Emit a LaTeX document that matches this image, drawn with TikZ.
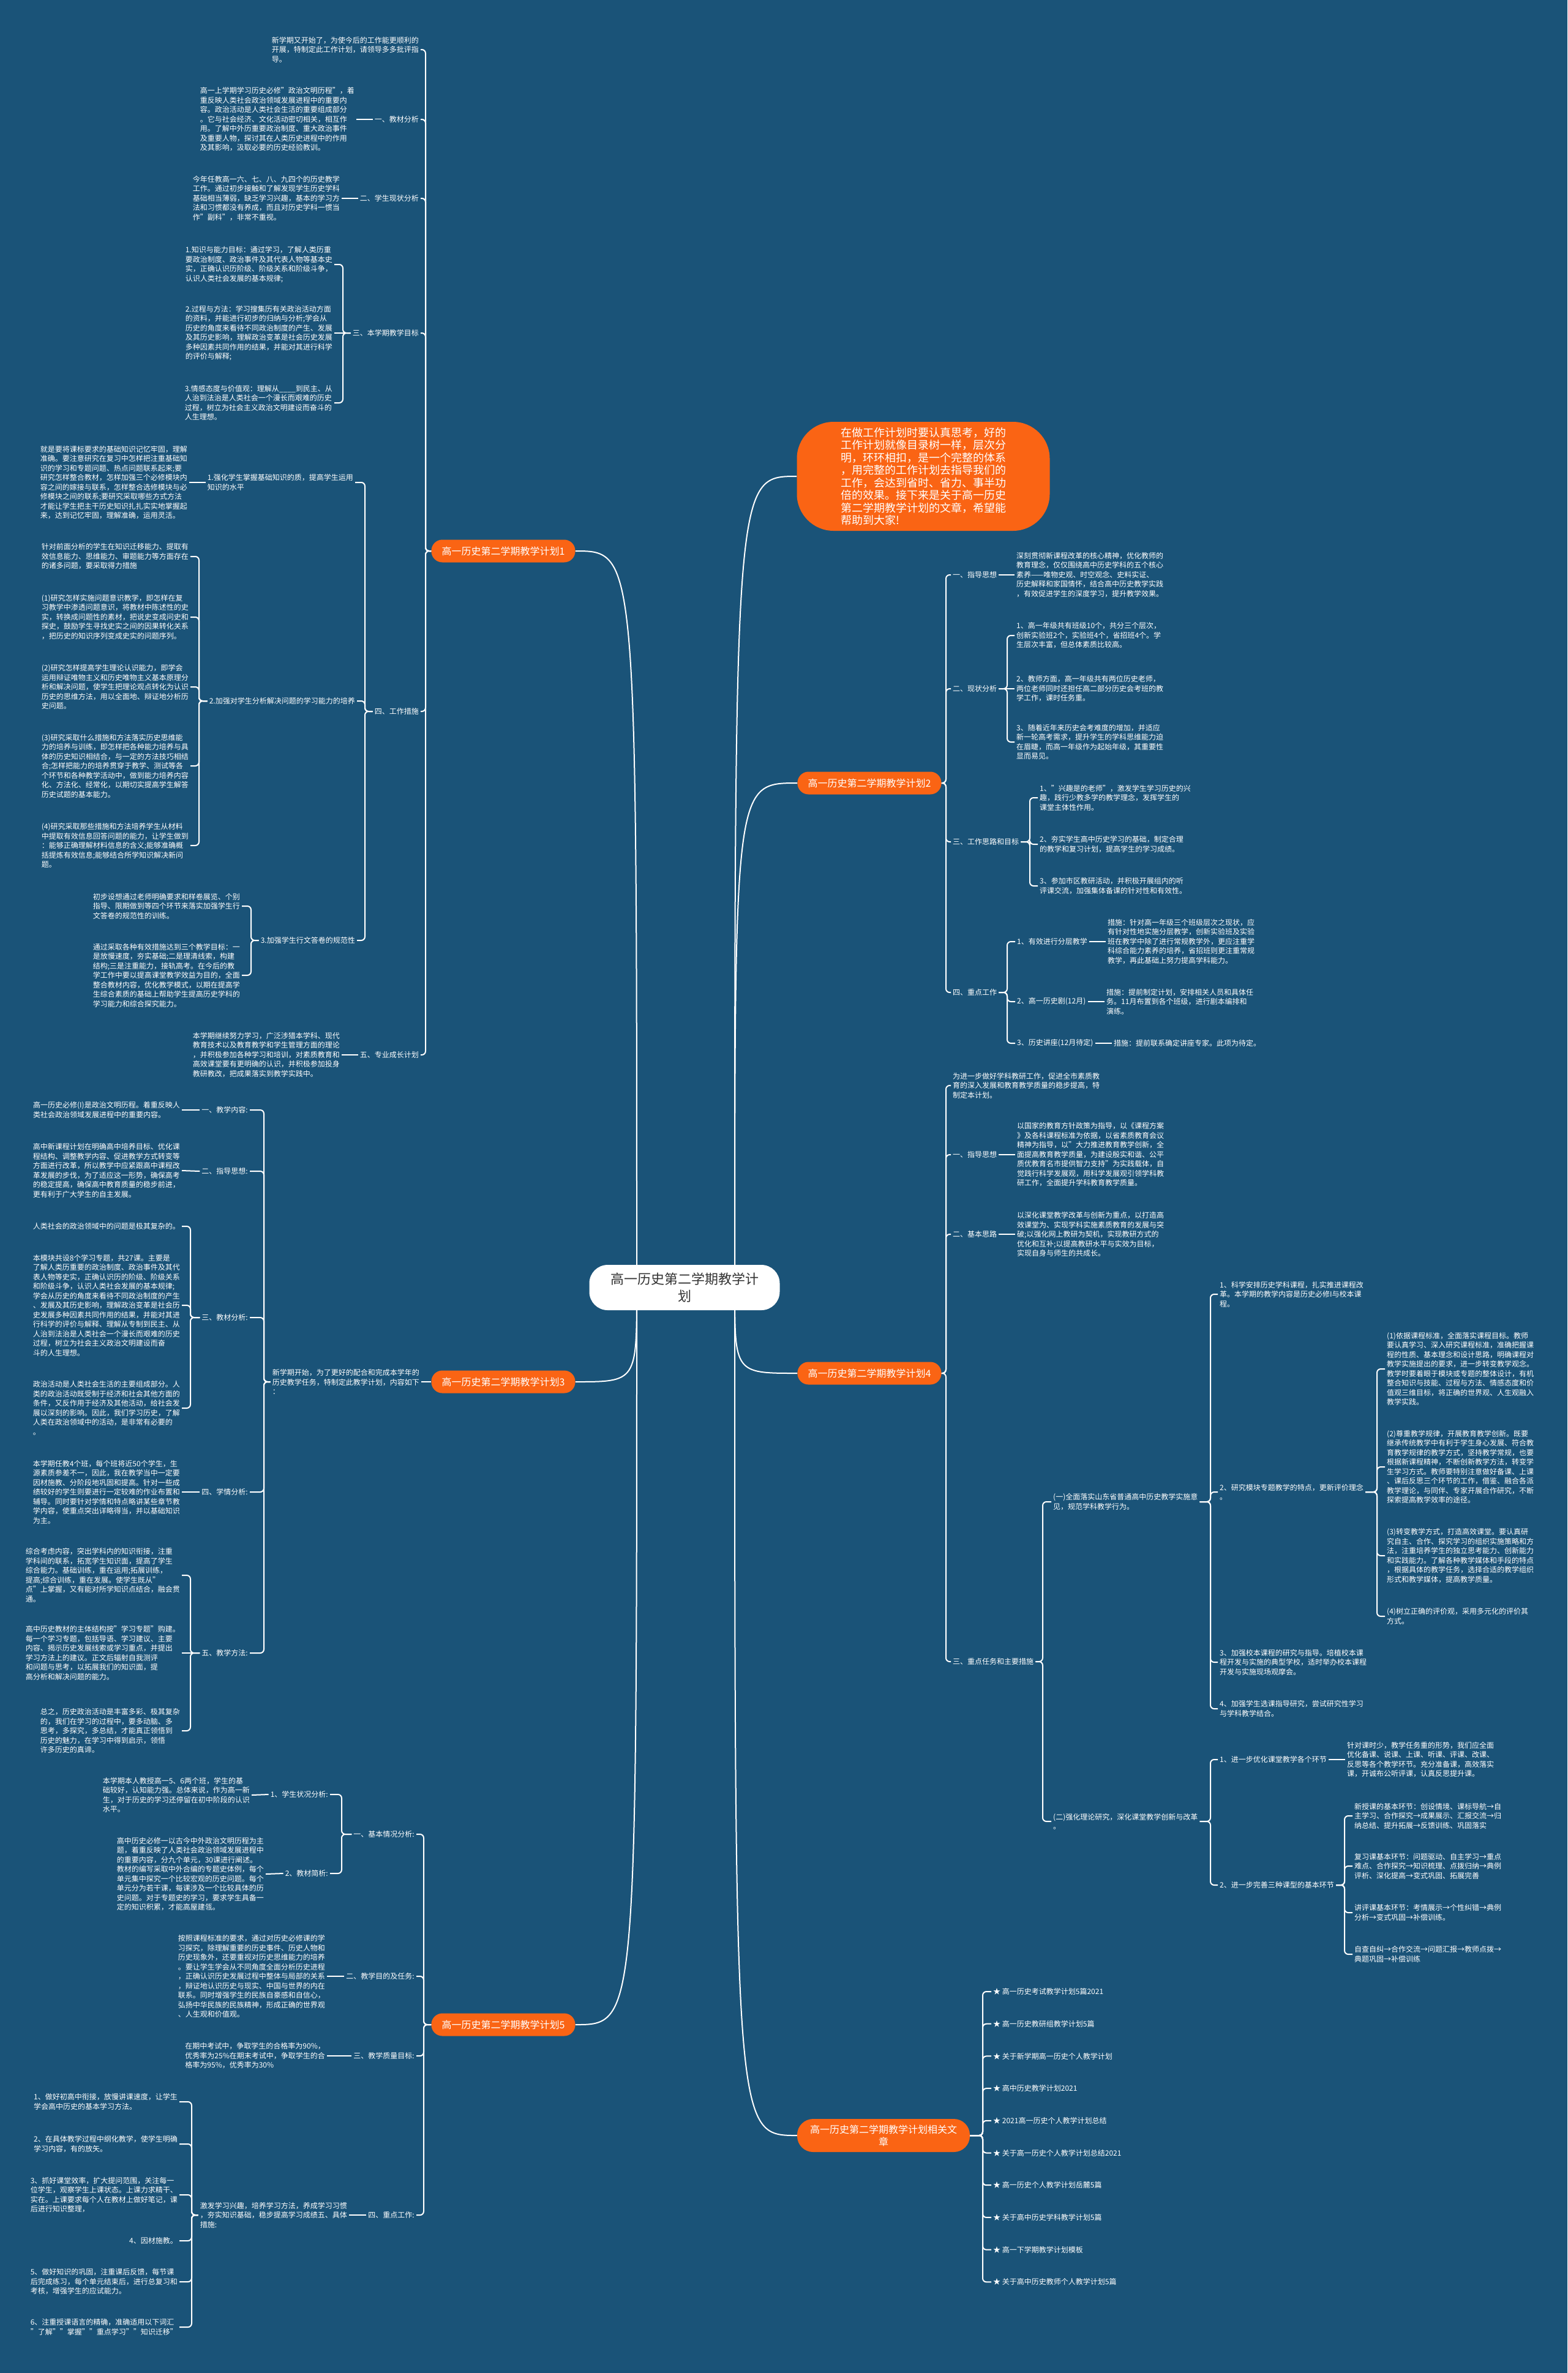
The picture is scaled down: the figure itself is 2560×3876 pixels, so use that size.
\documentclass[tikz,border=0pt]{standalone}
\usepackage{fontspec}
\setmainfont{Noto Sans CJK SC}
\usetikzlibrary{calc}
\pgfdeclarelayer{bg}
\pgfsetlayers{bg,main}
\definecolor{bgc}{HTML}{1A5378}
\definecolor{org}{HTML}{FA6414}
\definecolor{dk}{HTML}{333333}
\tikzset{
  conn/.style={draw=white, line width=2pt, rounded corners=6pt},
  tx/.style={text=white, font=\fontsize{12}{15.5}\selectfont, align=left, inner xsep=3pt, inner ysep=1pt},
  brn/.style={fill=org, text=white, font=\fontsize{16}{20}\selectfont, rounded corners=18pt, minimum width=235pt, minimum height=37pt, inner sep=0pt, align=center},
}
\newcommand\LL[3]{\draw[conn] (#1) -- (#2 |- #1) -- (#2 |- #3) -- (#3);}
\newcommand\SL[2]{\draw[conn] (#1) -- (#2);}
\begin{document}
\begin{tikzpicture}[x=1pt,y=-1pt]
\useasboundingbox (0,0) rectangle (2560,3876);
\begin{pgfonlayer}{bg}
\fill[bgc] (0,0) rectangle (2560,3876);
\end{pgfonlayer}

% ---------- centre and branches ----------
\node[fill=white, rounded corners=30pt, minimum width=311pt, minimum height=74pt, font=\fontsize{22}{28}\selectfont, text=dk, align=center, inner sep=0pt] (root) at (1118,2103) {高一历史第二学期教学计\\划};
\node[brn] (p1) at (822,900) {高一历史第二学期教学计划1};
\node[brn] (p3) at (822,2257) {高一历史第二学期教学计划3};
\node[brn] (p5) at (822,3307) {高一历史第二学期教学计划5};
\node[brn] (p2) at (1420,1279) {高一历史第二学期教学计划2};
\node[brn] (p4) at (1420,2243) {高一历史第二学期教学计划4};
\node[brn, minimum width=282pt, minimum height=54pt, rounded corners=26pt] (p6) at (1443,3488) {高一历史第二学期教学计划相关文\\章};
\node[fill=org, rounded corners=60pt, minimum width=413pt, minimum height=178pt, text=white, font=\fontsize{18}{20.5}\selectfont, align=left, inner sep=0pt] (note) at (1508,778) {在做工作计划时要认真思考，好的\\工作计划就像目录树一样，层次分\\明，环环相扣，是一个完整的体系\\，用完整的工作计划去指导我们的\\工作，会达到省时、省力、事半功\\倍的效果。接下来是关于高一历史\\第二学期教学计划的文章，希望能\\帮助到大家!};

% ---------- plan 1 ----------
\coordinate (b1) at (695,0);
\coordinate (b13) at (560,0);
\coordinate (b14) at (596,0);
\coordinate (b142) at (325,0);
\coordinate (b143) at (410,0);
\node[tx, anchor=east] (a0) at (687,81) {新学期又开始了，为使今后的工作能更顺利的\\开展，特制定此工作计划，请领导多多批评指\\导。};
\node[tx, anchor=east] (a1) at (687,195) {一、教材分析};
\node[tx, anchor=east] (a1t) at (582,195) {高一上学期学习历史必修"政治文明历程"，着\\重反映人类社会政治领域发展进程中的重要内\\容。政治活动是人类社会生活的重要组成部分\\。它与社会经济、文化活动密切相关，相互作\\用。了解中外历重要政治制度、重大政治事件\\及重要人物，探讨其在人类历史进程中的作用\\及其影响，汲取必要的历史经验教训。};
\node[tx, anchor=east] (a2) at (687,324) {二、学生现状分析};
\node[tx, anchor=east] (a2t) at (558,324) {今年任教高一六、七、八、九四个的历史教学\\工作。通过初步接触和了解发现学生历史学科\\基础相当薄弱，缺乏学习兴趣，基本的学习方\\法和习惯都没有养成，而且对历史学科一惯当\\作"副科"，非常不重视。};
\node[tx, anchor=east] (a3) at (687,544) {三、本学期教学目标};
\node[tx, anchor=east] (a31) at (546,432) {1.知识与能力目标：通过学习，了解人类历重\\要政治制度、政治事件及其代表人物等基本史\\实，正确认识历阶级、阶级关系和阶级斗争，\\认识人类社会发展的基本规律;};
\node[tx, anchor=east] (a32) at (546,544) {2.过程与方法：学习搜集历有关政治活动方面\\的资料，并能进行初步的归纳与分析;学会从\\历史的角度来看待不同政治制度的产生、发展\\及其历史影响，理解政治变革是社会历史发展\\多种因素共同作用的结果，并能对其进行科学\\的评价与解释;};
\node[tx, anchor=east] (a33) at (546,658) {3.情感态度与价值观：理解从\_\_\_\_到民主、从\\人治到法治是人类社会一个漫长而艰难的历史\\过程，树立为社会主义政治文明建设而奋斗的\\人生理想。};
\node[tx, anchor=east] (a4) at (687,1162) {四、工作措施};
\node[tx, anchor=east] (a41) at (580,788) {1.强化学生掌握基础知识的质，提高学生运用\\知识的水平};
\node[tx, anchor=east] (a41t) at (309,788) {就是要将课标要求的基础知识记忆牢固，理解\\准确。要注意研究在复习中怎样把注重基础知\\识的学习和专题问题、热点问题联系起来;要\\研究怎样整合教材，怎样加强三个必修模块内\\容之间的嫁接与联系，怎样整合选修模块与必\\修模块之间的联系;要研究采取哪些方式方法\\才能让学生把主干历史知识扎扎实实地掌握起\\来，达到记忆牢固，理解准确，运用灵活。};
\node[tx, anchor=east] (a42) at (583,1145) {2.加强对学生分析解决问题的学习能力的培养};
\node[tx, anchor=east] (a421) at (311,909) {针对前面分析的学生在知识迁移能力、提取有\\效信息能力、思维能力、审题能力等方面存在\\的诸多问题，要采取得力措施};
\node[tx, anchor=east] (a422) at (311,1008) {(1)研究怎样实施问题意识教学，即怎样在复\\习教学中渗透问题意识，将教材中陈述性的史\\实，转换成问题性的素材，把说史变成问史和\\探史，鼓励学生寻找史实之间的因果转化关系\\，把历史的知识序列变成史实的问题序列。};
\node[tx, anchor=east] (a423) at (311,1122) {(2)研究怎样提高学生理论认识能力，即学会\\运用辩证唯物主义和历史唯物主义基本原理分\\析和解决问题，使学生把理论观点转化为认识\\历史的思维方法，用以全面地、辩证地分析历\\史问题。};
\node[tx, anchor=east] (a424) at (311,1251) {(3)研究采取什么措施和方法落实历史思维能\\力的培养与训练，即怎样把各种能力培养与具\\体的历史知识相结合，与一定的方法技巧相结\\合;怎样把能力的培养贯穿于教学、测试等各\\个环节和各种教学活动中，做到能力培养内容\\化、方法化、经常化，以期切实提高学生解答\\历史试题的基本能力。};
\node[tx, anchor=east] (a425) at (311,1381) {(4)研究采取那些措施和方法培养学生从材料\\中提取有效信息回答问题的能力，让学生做到\\：能够正确理解材料信息的含义;能够准确概\\括提炼有效信息;能够结合所学知识解决新问\\题。};
\node[tx, anchor=east] (a43) at (583,1536) {3.加强学生行文答卷的规范性};
\node[tx, anchor=east] (a431) at (395,1480) {初步设想通过老师明确要求和样卷展览、个别\\指导、限期做到等四个环节来落实加强学生行\\文答卷的规范性的训练。};
\node[tx, anchor=east] (a432) at (395,1593) {通过采取各种有效措施达到三个教学目标：一\\是放慢速度，夯实基础;二是理清线索，构建\\结构;三是注重能力，接轨高考。在今后的教\\学工作中要以提高课堂教学效益为目的，全面\\整合教材内容，优化教学模式，以期在提高学\\生综合素质的基础上帮助学生提高历史学科的\\学习能力和综合探究能力。};
\node[tx, anchor=east] (a5) at (687,1723) {五、专业成长计划};
\node[tx, anchor=east] (a5t) at (558,1723) {本学期继续努力学习，广泛涉猎本学科、现代\\教育技术以及教育教学和学生管理方面的理论\\，并积极参加各种学习和培训，对素质教育和\\高效课堂要有更明确的认识，并积极参加投身\\教研教改，把成果落实到教学实践中。};

% ---------- plan 3 ----------
\coordinate (b3) at (431,0);
\coordinate (b33) at (311,0);
\coordinate (b35) at (311,0);
\node[tx, anchor=east] (c0) at (688,2257) {新学期开始，为了更好的配合和完成本学年的\\历史教学任务，特制定此教学计划，内容如下\\：};
\node[tx, anchor=east] (c1) at (408,1813) {一、教学内容:};
\node[tx, anchor=east] (c1t) at (297,1813) {高一历史必修(I)是政治文明历程。着重反映人\\类社会政治领域发展进程中的重要内容。};
\node[tx, anchor=east] (c2) at (408,1913) {二、指导思想:};
\node[tx, anchor=east] (c2t) at (297,1912) {高中新课程计划在明确高中培养目标、优化课\\程结构、调整教学内容、促进教学方式转变等\\方面进行改革，所以教学中应紧跟高中课程改\\革发展的步伐，为了适应这一形势，确保高考\\的稳定提高，确保高中教育质量的稳步前进，\\更有利于广大学生的自主发展。};
\node[tx, anchor=east] (c3) at (408,2152) {三、教材分析:};
\node[tx, anchor=east] (c31) at (297,2003) {人类社会的政治领域中的问题是极其复杂的。};
\node[tx, anchor=east] (c32) at (297,2132) {本模块共设8个学习专题，共27课。主要是\\了解人类历重要的政治制度、政治事件及其代\\表人物等史实，正确认识历的阶级、阶级关系\\和阶级斗争，认识人类社会发展的基本规律;\\学会从历史的角度来看待不同政治制度的产生\\、发展及其历史影响，理解政治变革是社会历\\史发展多种因素共同作用的结果，并能对其进\\行科学的评价与解释、理解从专制到民主、从\\人治到法治是人类社会一个漫长而艰难的历史\\过程，树立为社会主义政治文明建设而奋\\斗的人生理想。};
\node[tx, anchor=east] (c33) at (297,2300) {政治活动是人类社会生活的主要组成部分。人\\类的政治活动既受制于经济和社会其他方面的\\条件，又反作用于经济及其他活动，给社会发\\展以深刻的影响。因此，我们学习历史，了解\\人类在政治领域中的活动，是非常有必要的\\。};
\node[tx, anchor=east] (c4) at (408,2437) {四、学情分析:};
\node[tx, anchor=east] (c4t) at (297,2437) {本学期任教4个班，每个班将近50个学生，生\\源素质参差不一，因此，我在教学当中一定要\\因材施教、分阶段地巩固和提高。针对一些成\\绩较好的学生则要进行一定较难的作业布置和\\辅导。同时要针对学情和特点略讲某些章节教\\学内容，使重点突出详略得当，并以基础知识\\为主。};
\node[tx, anchor=east] (c5) at (408,2700) {五、教学方法:};
\node[tx, anchor=east] (c51) at (297,2573) {综合考虑内容，突出学科内的知识衔接，注重\\学科间的联系，拓宽学生知识面，提高了学生\\综合能力。基础训练，重在运用;拓展训练，\\提高;综合训练，重在发展。使学生既从"\\点"上掌握，又有能对所学知识点结合，融会贯\\通。};
\node[tx, anchor=east] (c52) at (297,2700) {高中历史教材的主体结构按"学习专题"购建。\\每一个学习专题，包括导语、学习建议、主要\\内容、揭示历史发展线索或学习重点，并提出\\学习方法上的建议。正文后辐射自我测评\\和问题与思考，以拓展我们的知识面，提\\高分析和解决问题的能力。};
\node[tx, anchor=east] (c53) at (297,2827) {总之，历史政治活动是丰富多彩、极其复杂\\的，我们在学习的过程中，要多动脑、多\\思考，多探究，多总结，才能真正领悟到\\历史的魅力，在学习中得到启示，领悟\\许多历史的真谛。};

% ---------- plan 5 ----------
\coordinate (b5) at (692,0);
\coordinate (b51) at (558,0);
\coordinate (b54) at (313,0);
\node[tx, anchor=east] (e1) at (680,2996) {一、基本情况分析:};
\node[tx, anchor=east] (e11) at (539,2931) {1、学生状况分析:};
\node[tx, anchor=east] (e11t) at (411,2932) {本学期本人教授高一5、6两个班，学生的基\\础较好，认知能力强。总体来说，作为高一新\\生，对于历史的学习还停留在初中阶段的认识\\水平。};
\node[tx, anchor=east] (e12) at (539,3060) {2、教材简析:};
\node[tx, anchor=east] (e12t) at (434,3061) {高中历史必修一以古今中外政治文明历程为主\\题，着重反映了人类社会政治领域发展进程中\\的重要内容，分九个单元，30课进行阐述。\\教材的编写采取中外合编的专题史体例，每个\\单元集中探究一个比较宏观的历史问题。每个\\单元分为若干课，每课涉及一个比较具体的历\\史问题。对于专题史的学习，要求学生具备一\\定的知识积累，才能高屋建瓴。};
\node[tx, anchor=east] (e2) at (680,3228) {二、教学目的及任务:};
\node[tx, anchor=east] (e2t) at (534,3228) {按照课程标准的要求，通过对历史必修课的学\\习探究，除理解重要的历史事件、历史人物和\\历史现象外，还要重视对历史思维能力的培养\\。要让学生学会从不同角度全面分析历史进程\\，正确认识历史发展过程中整体与局部的关系\\，辩证地认识历史与现实、中国与世界的内在\\联系。同时增强学生的民族自豪感和自信心，\\弘扬中华民族的民族精神，形成正确的世界观\\、人生观和价值观。};
\node[tx, anchor=east] (e3) at (680,3358) {三、教学质量目标:};
\node[tx, anchor=east] (e3t) at (534,3358) {在期中考试中，争取学生的合格率为90\%，\\优秀率为25\%在期末考试中，争取学生的合\\格率为95\%，优秀率为30\%};
\node[tx, anchor=east] (e4) at (680,3618) {四、重点工作:};
\node[tx, anchor=east] (e4t) at (570,3618) {激发学习兴趣，培养学习方法，养成学习习惯\\，夯实知识基础，稳步提高学习成绩五、具体\\措施:};
\node[tx, anchor=east] (e41) at (293,3433) {1、做好初高中衔接，放慢讲课速度，让学生\\学会高中历史的基本学习方法。};
\node[tx, anchor=east] (e42) at (293,3502) {2、在具体教学过程中纲化教学，使学生明确\\学习内容，有的放矢。};
\node[tx, anchor=east] (e43) at (293,3585) {3、抓好课堂效率，扩大提问范围，关注每一\\位学生，观察学生上课状态。上课力求精干、\\实在。上课要求每个人在教材上做好笔记，课\\后进行知识整理，};
\node[tx, anchor=east] (e44) at (293,3660) {4、因材施教。};
\node[tx, anchor=east] (e45) at (293,3727) {5、做好知识的巩固，注重课后反馈，每节课\\后完成练习，每个单元结束后，进行总复习和\\考核，增强学生的应试能力。};
\node[tx, anchor=east] (e46) at (293,3801) {6、注重授课语言的精确，准确适用以下词汇\\"了解""掌握""重点学习""知识迁移"};

% ---------- plan 2 ----------
\coordinate (b2) at (1545,0);
\coordinate (b22) at (1645,0);
\coordinate (b23) at (1682,0);
\coordinate (b24) at (1645,0);
\node[tx, anchor=west] (d1) at (1553,939) {一、指导思想};
\node[tx, anchor=west] (d1t) at (1657,939) {深刻贯彻新课程改革的核心精神，优化教师的\\教育理念，仅仅围绕高中历史学科的五个核心\\素养——唯物史观、时空观念、史料实证、\\历史解释和家国情怀，结合高中历史教学实践\\，有效促进学生的深度学习，提升教学效果。};
\node[tx, anchor=west] (d2) at (1553,1125) {二、现状分析};
\node[tx, anchor=west] (d21) at (1657,1038) {1、高一年级共有班级10个，共分三个层次，\\创新实验班2个，实验班4个，省招班4个。学\\生层次丰富，但总体素质比较高。};
\node[tx, anchor=west] (d22) at (1657,1125) {2、教师方面，高一年级共有两位历史老师，\\两位老师同时还担任高二部分历史会考班的教\\学工作，课时任务重。};
\node[tx, anchor=west] (d23) at (1657,1212) {3、随着近年来历史会考难度的增加，并适应\\新一轮高考需求，提升学生的学科思维能力迫\\在眉睫，而高一年级作为起始年级，其重要性\\显而易见。};
\node[tx, anchor=west] (d3) at (1553,1375) {三、工作思路和目标};
\node[tx, anchor=west] (d31) at (1695,1303) {1、"兴趣是的老师"，激发学生学习历史的兴\\趣，践行少教多学的教学理念，发挥学生的\\课堂主体性作用。};
\node[tx, anchor=west] (d32) at (1695,1379) {2、夯实学生高中历史学习的基础，制定合理\\的教学和复习计划，提高学生的学习成绩。};
\node[tx, anchor=west] (d33) at (1695,1447) {3、参加市区教研活动，并积极开展组内的听\\评课交流，加强集体备课的针对性和有效性。};
\node[tx, anchor=west] (d4) at (1553,1621) {四、重点工作};
\node[tx, anchor=west] (d41) at (1658,1538) {1、有效进行分层教学};
\node[tx, anchor=west] (d41t) at (1806,1538) {措施：针对高一年级三个班级层次之现状，应\\有针对性地实施分层教学，创新实验班及实验\\班在教学中除了进行常规教学外，更应注重学\\科综合能力素养的培养，省招班则更注重常规\\教学，再此基础上努力提高学科能力。};
\node[tx, anchor=west] (d42) at (1658,1636) {2、高一历史剧(12月)};
\node[tx, anchor=west] (d42t) at (1804,1636) {措施：提前制定计划，安排相关人员和具体任\\务。11月布置到各个班级，进行剧本编排和\\演练。};
\node[tx, anchor=west] (d43) at (1658,1704) {3、历史讲座(12月待定)};
\node[tx, anchor=west] (d43t) at (1816,1704) {措施：提前联系确定讲座专家。此项为待定。};

% ---------- plan 4 ----------
\coordinate (b4) at (1545,0);
\coordinate (b43) at (1703,0);
\coordinate (b431) at (1977,0);
\coordinate (b4312) at (2249,0);
\coordinate (b432) at (1977,0);
\coordinate (b4322) at (2196,0);
\node[tx, anchor=west] (f0) at (1553,1773) {为进一步做好学科教研工作，促进全市素质教\\育的深入发展和教育教学质量的稳步提高，特\\制定本计划。};
\node[tx, anchor=west] (f1) at (1553,1886) {一、指导思想};
\node[tx, anchor=west] (f1t) at (1658,1886) {以国家的教育方针政策为指导，以《课程方案\\》及各科课程标准为依据，以省素质教育会议\\精神为指导，以"大力推进教育教学创新，全\\面提高教育教学质量，为建设殷实和谐、公平\\质优教育名市提供智力支持"为实践载体，自\\觉践行科学发展观，用科学发展观引领学科教\\研工作，全面提升学科教育教学质量。};
\node[tx, anchor=west] (f2) at (1553,2016) {二、基本思路};
\node[tx, anchor=west] (f2t) at (1658,2016) {以深化课堂教学改革与创新为重点，以打造高\\效课堂为、实现学科实施素质教育的发展与突\\破;以强化网上教研为契机，实现教研方式的\\优化和互补;以提高教研水平与实效为目标，\\实现自身与师生的共成长。};
\node[tx, anchor=west] (f3) at (1553,2714) {三、重点任务和主要措施};
\node[tx, anchor=west] (f31) at (1717,2453) {(一)全面落实山东省普通高中历史教学实施意\\见，规范学科教学行为。};
\node[tx, anchor=west] (f311) at (1989,2114) {1、科学安排历史学科课程，扎实推进课程改\\革。本学期的教学内容是历史必修I与校本课\\程。};
\node[tx, anchor=west] (f312) at (1989,2437) {2、研究模块专题教学的特点，更新评价理念\\。};
\node[tx, anchor=west] (f3121) at (2262,2236) {(1)依据课程标准，全面落实课程目标。教师\\要认真学习、深入研究课程标准，准确把握课\\程的性质、基本理念和设计思路，明确课程对\\教学实施提出的要求，进一步转变教学观念。\\教学时要着眼于模块或专题的整体设计，有机\\整合知识与技能、过程与方法、情感态度和价\\值观三维目标，将正确的世界观、人生观融入\\教学实践。};
\node[tx, anchor=west] (f3122) at (2262,2396) {(2)尊重教学规律，开展教育教学创新。既要\\继承传统教学中有利于学生身心发展、符合教\\育教学规律的教学方式，坚持教学常规，也要\\根据新课程精神，不断创新教学方法，转变学\\生学习方式。教师要特别注意做好备课、上课\\、课后反思三个环节的工作，借鉴、融合各派\\教学理论，与同伴、专家开展合作研究，不断\\探索提高教学效率的途径。};
\node[tx, anchor=west] (f3123) at (2262,2541) {(3)转变教学方式，打造高效课堂。要认真研\\究自主、合作、探究学习的组织实施策略和方\\法，注重培养学生的独立思考能力、创新能力\\和实践能力。了解各种教学媒体和手段的特点\\，根据具体的教学任务，选择合适的教学组织\\形式和教学媒体，提高教学质量。};
\node[tx, anchor=west] (f3124) at (2262,2640) {(4)树立正确的评价观，采用多元化的评价其\\方式。};
\node[tx, anchor=west] (f313) at (1989,2715) {3、加强校本课程的研究与指导。培植校本课\\程开发与实施的典型学校，适时举办校本课程\\开发与实施现场观摩会。};
\node[tx, anchor=west] (f314) at (1989,2791) {4、加强学生选课指导研究，尝试研究性学习\\与学科教学结合。};
\node[tx, anchor=west] (f32) at (1717,2975) {(二)强化理论研究，深化课堂教学创新与改革\\。};
\node[tx, anchor=west] (f321) at (1989,2874) {1、进一步优化课堂教学各个环节};
\node[tx, anchor=west] (f321t) at (2197,2874) {针对课时少，教学任务重的形势，我们应全面\\优化备课、说课、上课、听课、评课、改课、\\反思等各个教学环节。充分准备课，高效落实\\课，开诚布公听评课，认真反思提升课。};
\node[tx, anchor=west] (f322) at (1989,3079) {2、进一步完善三种课型的基本环节};
\node[tx, anchor=west] (f3221) at (2209,2966) {新授课的基本环节：创设情境、课标导航→自\\主学习、合作探究→成果展示、汇报交流→归\\纳总结、提升拓展→反馈训练、巩固落实};
\node[tx, anchor=west] (f3222) at (2209,3048) {复习课基本环节：问题驱动、自主学习→重点\\难点、合作探究→知识梳理、点拨归纳→典例\\评析、深化提高→变式巩固、拓展完善};
\node[tx, anchor=west] (f3223) at (2209,3124) {讲评课基本环节：考情展示→个性纠错→典例\\分析→变式巩固→补偿训练。};
\node[tx, anchor=west] (f3224) at (2209,3192) {自查自纠→合作交流→问题汇报→教师点拨→\\典题巩固→补偿训练};

% ---------- related ----------
\coordinate (b6) at (1605,0);
\foreach \i/\t in {1/高一历史考试教学计划5篇2021,2/高一历史教研组教学计划5篇,3/关于新学期高一历史个人教学计划,4/高中历史教学计划2021,5/2021高一历史个人教学计划总结,6/关于高一历史个人教学计划总结2021,7/高一历史个人教学计划岳麓5篇,8/关于高中历史学科教学计划5篇,9/高一下学期教学计划模板,10/关于高中历史教师个人教学计划5篇}{
  \node[tx, anchor=west] (g\i) at (1619,{3253+52.7*(\i-1)}) {★ \t};
}

% ---------- connectors ----------
\begin{pgfonlayer}{bg}
\coordinate (sl) at (1040,2103);
\coordinate (sr) at (1200,2103);
\draw[conn] (sl) .. controls (1040,900) .. (p1.east);
\draw[conn] (sl) .. controls (1040,2257) .. (p3.east);
\draw[conn] (sl) .. controls (1040,3307) .. (p5.east);
\draw[conn] (sr) .. controls (1200,778) .. (note.west);
\draw[conn] (sr) .. controls (1200,1279) .. (p2.west);
\draw[conn] (sr) .. controls (1200,2243) .. (p4.west);
\draw[conn] (sr) .. controls (1200,3488) .. (p6.west);
% plan 1
\foreach \c in {a0,a1,a2,a3,a4,a5}{\LL{p1.west}{b1}{\c.east}}
\LL{a3.west}{b13}{a31.east}
\SL{a3.west}{a32.east}
\LL{a3.west}{b13}{a33.east}
\foreach \c in {a41,a42,a43}{\LL{a4.west}{b14}{\c.east}}
\foreach \c in {a421,a422,a423,a424,a425}{\LL{a42.west}{b142}{\c.east}}
\foreach \c in {a431,a432}{\LL{a43.west}{b143}{\c.east}}
\SL{a1.west}{a1t.east}
\SL{a2.west}{a2t.east}
\SL{a41.west}{a41t.east}
\SL{a5.west}{a5t.east}
% plan 3
\SL{p3.west}{c0.east}
\foreach \c in {c1,c2,c3,c4,c5}{\LL{c0.west}{b3}{\c.east}}
\foreach \c in {c31,c32,c33}{\LL{c3.west}{b33}{\c.east}}
\LL{c5.west}{b35}{c51.east}
\SL{c5.west}{c52.east}
\LL{c5.west}{b35}{c53.east}
\SL{c1.west}{c1t.east}
\SL{c2.west}{c2t.east}
\SL{c4.west}{c4t.east}
% plan 5
\foreach \c in {e1,e2,e3,e4}{\LL{p5.west}{b5}{\c.east}}
\foreach \c in {e11,e12}{\LL{e1.west}{b51}{\c.east}}
\foreach \c in {e41,e42,e43,e44,e45,e46}{\LL{e4t.west}{b54}{\c.east}}
\SL{e11.west}{e11t.east}
\SL{e12.west}{e12t.east}
\SL{e2.west}{e2t.east}
\SL{e3.west}{e3t.east}
\SL{e4.west}{e4t.east}
% plan 2
\foreach \c in {d1,d2,d3,d4}{\LL{p2.east}{b2}{\c.west}}
\LL{d2.east}{b22}{d21.west}
\SL{d2.east}{d22.west}
\LL{d2.east}{b22}{d23.west}
\foreach \c in {d31,d32,d33}{\LL{d3.east}{b23}{\c.west}}
\foreach \c in {d41,d42,d43}{\LL{d4.east}{b24}{\c.west}}
\SL{d1.east}{d1t.west}
\SL{d41.east}{d41t.west}
\SL{d42.east}{d42t.west}
\SL{d43.east}{d43t.west}
% plan 4
\foreach \c in {f0,f1,f2,f3}{\LL{p4.east}{b4}{\c.west}}
\foreach \c in {f31,f32}{\LL{f3.east}{b43}{\c.west}}
\foreach \c in {f311,f312,f313,f314}{\LL{f31.east}{b431}{\c.west}}
\foreach \c in {f3121,f3122,f3123,f3124}{\LL{f312.east}{b4312}{\c.west}}
\foreach \c in {f321,f322}{\LL{f32.east}{b432}{\c.west}}
\foreach \c in {f3221,f3222,f3223,f3224}{\LL{f322.east}{b4322}{\c.west}}
\SL{f1.east}{f1t.west}
\SL{f2.east}{f2t.west}
\SL{f321.east}{f321t.west}
% related
\foreach \i in {1,...,10}{\LL{p6.east}{b6}{g\i.west}}
\end{pgfonlayer}
\end{tikzpicture}
\end{document}
